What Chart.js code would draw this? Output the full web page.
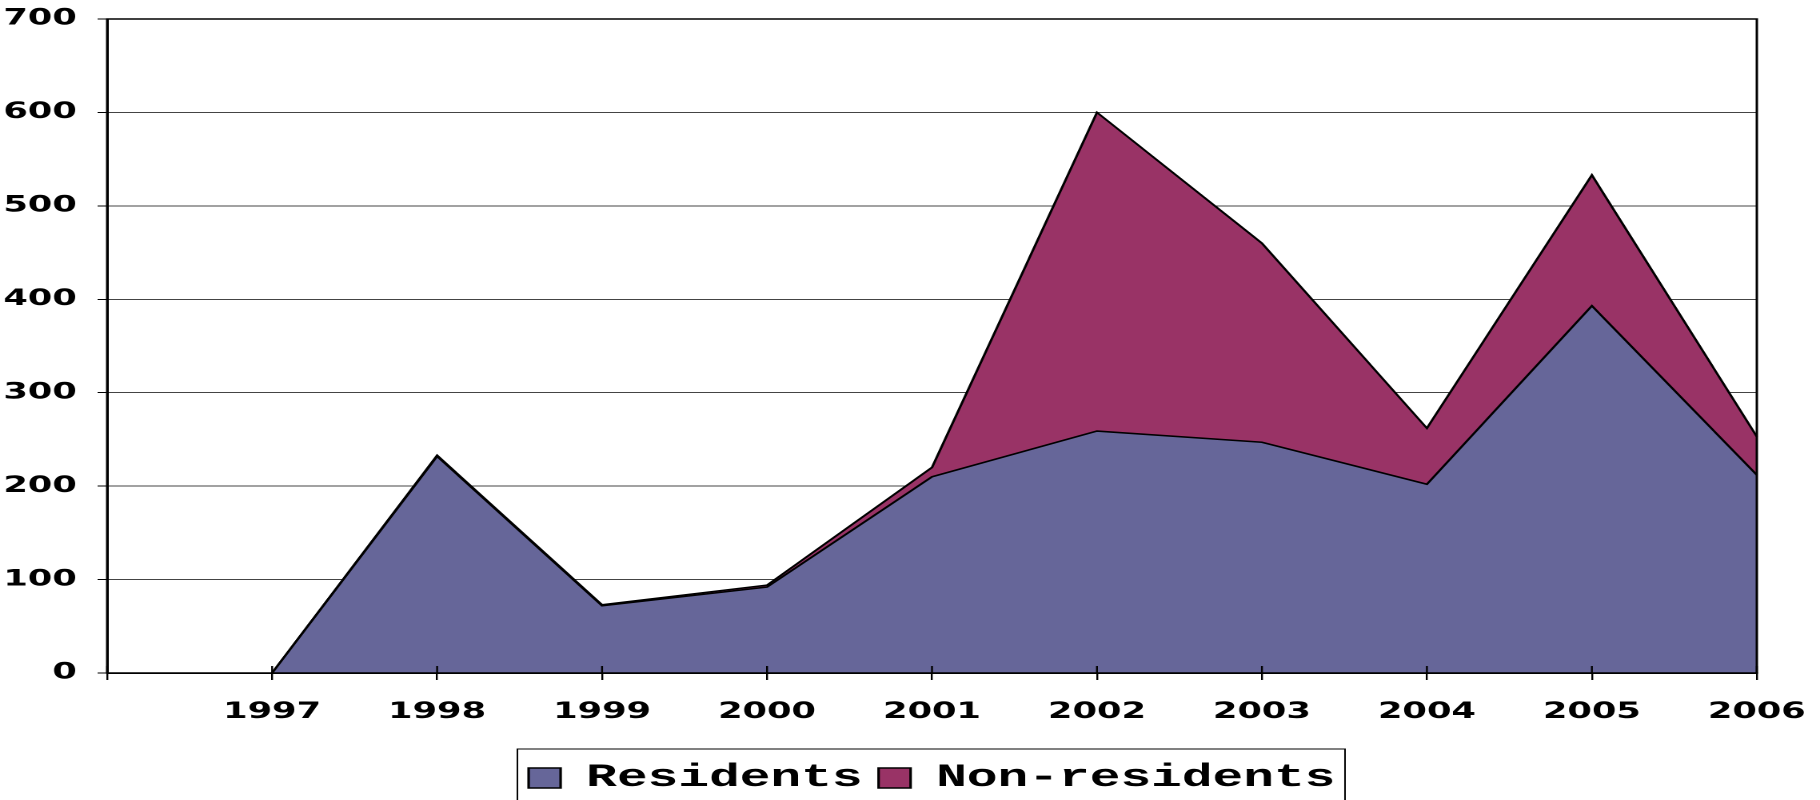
<!DOCTYPE html>
<html>
<head>
<meta charset="utf-8">
<script src="https://cdn.jsdelivr.net/npm/chart.js@4"></script>
<style>
  html, body { margin: 0; padding: 0; background: #fff; overflow: hidden; }
  /* the reference is stretched sideways, so the chart is drawn narrow and widened */
  #wrap { width: 1138px; height: 800px; transform: scaleX(1.5993); transform-origin: 0 0; }
</style>
</head>
<body>
<div id="wrap"><canvas id="areaChart" width="1138" height="800"></canvas></div>
<script>
const years = ['1997', '1998', '1999', '2000', '2001', '2002', '2003', '2004', '2005', '2006'];
const residents = [0, 232, 72, 92, 210, 259, 247, 202, 393, 212];
const nonResidents = [0, 1, 1, 2, 10, 341, 213, 60, 140, 41];
const yMax = 700;
const yStep = 100;

// first category is an empty slot before 1997
const labels = [''].concat(years);

Chart.defaults.color = '#000';

const frame = {
    id: 'frame',
    afterLayout(chart) {
        // centre the legend on the plot area and nudge it down a little
        const lg = chart.legend, a = chart.chartArea;
        lg.left = a.left;
        lg.right = a.right;
        lg.top += 4;
        lg.bottom += 4;
    },
    afterDatasetsDraw(chart) {
        const { ctx, chartArea: a, scales: { x } } = chart;
        ctx.save();
        ctx.strokeStyle = '#000';
        ctx.lineWidth = 1.5;
        ctx.strokeRect(a.left, a.top, a.right - a.left, a.bottom - a.top);
        ctx.lineWidth = 1.2;
        x.ticks.forEach((t, i) => {
            const px = x.getPixelForTick(i);
            ctx.beginPath();
            ctx.moveTo(px, a.bottom - 7);
            ctx.lineTo(px, a.bottom);
            ctx.stroke();
        });
        ctx.restore();
    },
    afterDraw(chart) {
        const { ctx } = chart;
        const lg = chart.legend, pad = lg.options.labels.padding;
        const w = lg.lineWidths[0];
        const start = (lg.left + pad + lg.right - w) / 2;
        ctx.save();
        ctx.strokeStyle = '#000';
        ctx.lineWidth = 1;
        ctx.strokeRect(start - 7, lg.top - 3, w - pad + 13, 120);
        ctx.restore();
    }
};

new Chart(document.getElementById('areaChart'), {
    type: 'line',
    data: {
        labels: labels,
        datasets: [
            {
                label: 'Residents',
                data: [null].concat(residents),
                backgroundColor: '#666699',
                borderColor: '#000',
                borderWidth: 1.6,
                fill: 'origin',
                pointRadius: 0,
                tension: 0
            },
            {
                label: 'Non-residents',
                data: [null].concat(nonResidents),
                backgroundColor: '#993366',
                borderColor: '#000',
                borderWidth: 1.6,
                fill: '-1',
                pointRadius: 0,
                tension: 0
            }
        ]
    },
    options: {
        responsive: false,
        animation: false,
        devicePixelRatio: 2,
        layout: { padding: { top: 19, right: 39.5, left: 0, bottom: 0 } },
        scales: {
            x: {
                offset: false,
                grid: { drawOnChartArea: false, color: '#000', tickLength: 7, lineWidth: 1.2 },
                border: { color: '#000', width: 1.5 },
                ticks: {
                    autoSkip: false,
                    maxRotation: 0,
                    padding: 19,
                    color: '#000',
                    font: { family: 'DejaVu Sans', size: 22, weight: 'bold' }
                },
                afterFit: s => {
                    s.height = 75;
                    s.paddingLeft = 0;
                    s.paddingRight = 0;
                }
            },
            y: {
                stacked: true,
                min: 0,
                max: yMax,
                ticks: {
                    stepSize: yStep,
                    padding: 13,
                    color: '#000',
                    font: { family: 'DejaVu Sans', size: 22, weight: 'bold' }
                },
                grid: { color: '#444', lineWidth: 1, tickLength: 6, tickColor: '#000' },
                border: { color: '#000', width: 1.5 },
                afterFit: s => {
                    s.width = 67;
                    s.paddingTop = 0;
                    s.paddingBottom = 0;
                }
            }
        },
        plugins: {
            legend: {
                position: 'bottom',
                labels: {
                    boxWidth: 20,
                    boxHeight: 20,
                    padding: 10,
                    color: '#000',
                    font: { family: 'Liberation Mono', size: 32, weight: 'bold' }
                }
            },
            tooltip: { enabled: false }
        }
    },
    plugins: [frame]
});
</script>
</body>
</html>
